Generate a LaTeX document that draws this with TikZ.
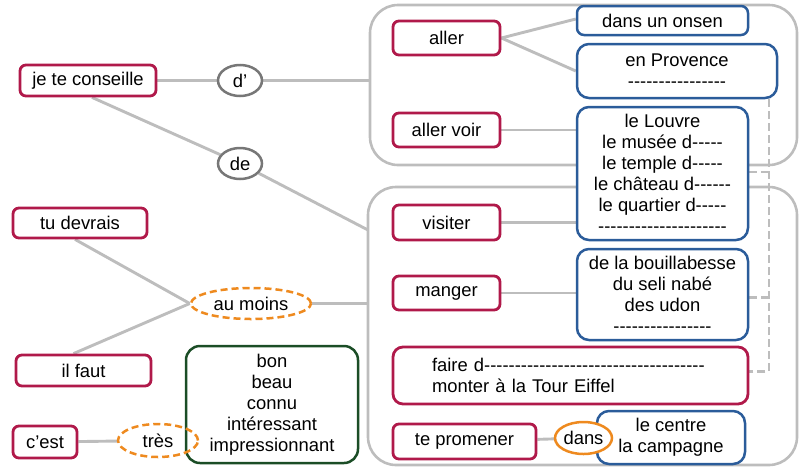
\documentclass[tikz,border=0pt]{standalone}
\usepackage{fontspec}
\setmainfont{Liberation Sans}[Ligatures=TeXOff]
\usetikzlibrary{shapes.geometric,calc}
\definecolor{cred}{HTML}{B0194A}
\definecolor{cblue}{HTML}{2B5C9A}
\definecolor{cgreen}{HTML}{1B4D26}
\definecolor{corange}{HTML}{EE8A1F}
\definecolor{cline}{HTML}{BDBDBD}
\definecolor{cgray}{HTML}{777777}
\pgfdeclarelayer{bg}
\pgfsetlayers{bg,main}
\begin{document}
\begin{tikzpicture}[x=1pt,y=-1pt,
  txt/.style={font=\fontsize{18.4}{21}\selectfont, align=center, inner sep=0pt},
  rbox/.style={txt, draw=cred, line width=2.8pt, rounded corners=6pt, fill=white},
  bbox/.style={txt, draw=cblue, line width=2.5pt, rounded corners=12pt, fill=white},
  gbox/.style={txt, draw=cgreen, line width=2.5pt, rounded corners=14pt, fill=white},
  grp/.style={draw=cline, line width=2.6pt, rounded corners=28pt, inner sep=0pt},
  gell/.style={txt, ellipse, draw=cgray, line width=2.5pt, fill=white},
  oell/.style={txt, ellipse, draw=corange, line width=2.5pt, dash pattern=on 7pt off 4pt},
  conn/.style={draw=cline, line width=2.9pt},
  dconn/.style={draw=cline, line width=2.5pt, dash pattern=on 8pt off 4pt}]
\useasboundingbox (0,0) rectangle (800,469);
% groups
\node[grp, minimum width=427, minimum height=160] (g1) at (583.5,85) {};
\node[grp, minimum width=429, minimum height=278] (g2) at (582.5,326) {};
\coordinate (g2in) at (368,230);
\coordinate (dx) at (769,0);
% left nodes
\node[rbox, minimum width=136, minimum height=31] (jtc) at (88,80.5) {je te conseille};
\node[gell, minimum width=44, minimum height=31] (dap) at (240,80.5) {d’};
\node[gell, minimum width=44, minimum height=31] (de) at (240,163.5) {de};
\node[rbox, minimum width=134, minimum height=30] (td) at (80,223) {tu devrais};
\node[rbox, minimum width=135, minimum height=31] (ilf) at (83.5,370.5) {il faut};
\node[oell, minimum width=120, minimum height=31, fill=white] (am) at (251,303.5) {au moins};
\node[rbox, minimum width=64, minimum height=32] (ce) at (45,442) {c’est};
\node[gbox, minimum width=172, minimum height=117] (adj) at (272,404.5) {bon\\beau\\connu\\intéressant\\impressionnant};
\node[oell, minimum width=80, minimum height=33] (tres) at (158,440.5) {très};
% group 1
\node[rbox, minimum width=107, minimum height=34] (aller) at (446.5,38) {aller};
\node[rbox, minimum width=107, minimum height=34] (av) at (446.5,130) {aller voir};
\node[bbox, rounded corners=7pt, minimum width=171, minimum height=29] (onsen) at (662.5,20.5) {dans un onsen};
\node[bbox, minimum width=200, minimum height=54] (prov) at (677,71) {en Provence\\----------------};
\node[bbox, minimum width=171, minimum height=133] (louvre) at (662.5,173.5) {le Louvre\\le musée d-----\\le temple d-----\\le château d------\\le quartier d-----\\---------------------};
% group 2
\node[rbox, minimum width=107, minimum height=35] (vis) at (446.5,222.5) {visiter};
\node[rbox, minimum width=107, minimum height=34] (man) at (446.5,293) {manger};
\node[bbox, minimum width=171, minimum height=91] (bouil) at (662.5,294.5) {de la bouillabesse\\du seli nabé\\des udon\\----------------};
\node[rbox, rounded corners=10pt, minimum width=355, minimum height=57, text width=277, align=left, inner xsep=39pt] (faire) at (570.5,375.5) {faire d------------------------------------\\monter à la Tour Eiffel};
\node[rbox, minimum width=143, minimum height=35] (tp) at (464.5,441.5) {te promener};
\node[bbox, minimum width=148, minimum height=53] (ctr) at (671,437.5) {le centre\\la campagne};
\node[txt, ellipse, draw=corange, line width=2.5pt, fill=white, minimum width=57, minimum height=32] (dans) at (583.5,438) {dans};
% connectors
\begin{pgfonlayer}{bg}
\draw[conn] (jtc) -- (dap);
\draw[conn] (dap) -- (dap -| g1.west);
\draw[conn] ([xshift=4pt]jtc.south) -- (de);
\draw[conn] (de) -- (g2in);
\draw[conn] ([xshift=-5pt]td.south) -- (am.west);
\draw[conn] ([xshift=-10pt]ilf.north) -- (am.west);
\draw[conn] (am) -- (am -| g2.west);
\draw[conn] (ce) -- (tres);
\draw[conn] (aller.east) -- ([yshift=1.5pt]onsen.west);
\draw[conn] (aller.east) -- (prov.west);
\draw[conn] (av) -- (av -| louvre.west);
\draw[conn] (vis) -- (vis -| louvre.west);
\draw[conn] (man) -- (man -| bouil.west);
\draw[conn] (tp) -- (dans);
\draw[conn] (dans) -- (ctr);
\draw[dconn] (prov.south -| dx) |- ([yshift=4pt]faire.east);
\draw[dconn] ([yshift=1.5pt]louvre.east) -- ([yshift=1.5pt]louvre.east -| dx);
\draw[dconn] ([yshift=-3pt]bouil.east) -- ([yshift=-3pt]bouil.east -| dx);
\end{pgfonlayer}
\end{tikzpicture}
\end{document}
